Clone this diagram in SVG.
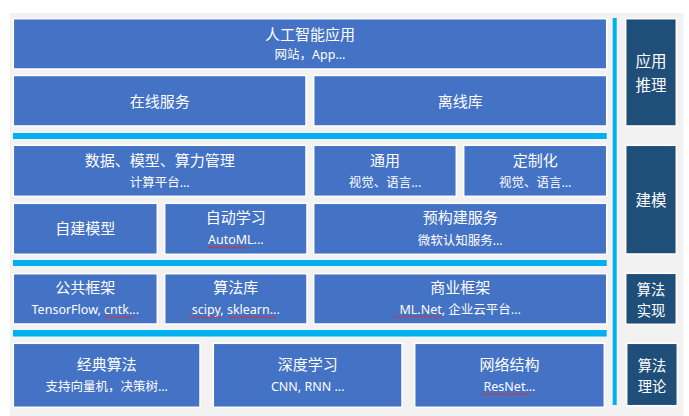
<svg xmlns="http://www.w3.org/2000/svg" width="689" height="416" viewBox="0 0 689 416">
<style>
.b{fill:#4472C4;stroke:#fff;stroke-width:1.5}
.d{fill:#1F4E79;stroke:#fff;stroke-width:1.5}
.bar{fill:#00B0F0}
text{fill:#fff;font-family:"Noto Sans CJK SC","Noto Sans",sans-serif;text-anchor:middle;dominant-baseline:central}
.t{font-size:15px}
.s{font-size:12.5px;font-family:"Noto Sans","Noto Sans CJK SC",sans-serif}
.r{font-size:15.5px}
.q{font-size:14.3px}
.w{fill:none;stroke:#e03030;stroke-width:1}
</style>
<rect x="0" y="0" width="689" height="416" fill="#fff"/>
<rect x="10" y="13" width="673.5" height="403" fill="#F2F2F2"/>
<g id="bars">
<rect class="bar" x="13" y="133" width="593.7" height="6"/>
<rect class="bar" x="13" y="260" width="593.7" height="6"/>
<rect class="bar" x="13" y="330" width="593.7" height="6.5"/>
<rect class="bar" x="612.7" y="18" width="4" height="387"/>
</g>
<g id="ai-app"><rect class="b" x="13.3" y="18.7" width="593.4" height="50.3"/><text class="t" x="310" y="33">人工智能应用</text><text class="s" x="310" y="54.5">网站，App...</text></g>
<g id="online"><rect class="b" x="13.3" y="75.5" width="292.7" height="50.5"/><text class="t" x="159.7" y="100">在线服务</text></g>
<g id="offline"><rect class="b" x="313.7" y="75.5" width="293" height="50.5"/><text class="t" x="460.2" y="100">离线库</text></g>
<g id="data-mgmt"><rect class="b" x="13.3" y="145.3" width="292.7" height="51"/><text class="t" x="159.7" y="159.3">数据、模型、算力管理</text><text class="s" x="159.7" y="182">计算平台...</text></g>
<g id="general"><rect class="b" x="313.7" y="145.3" width="142.6" height="51"/><text class="t" x="385" y="159.3">通用</text><text class="s" x="385" y="182">视觉、语言...</text></g>
<g id="custom"><rect class="b" x="463.7" y="145.3" width="143" height="51"/><text class="t" x="535.2" y="159.3">定制化</text><text class="s" x="535.2" y="182">视觉、语言...</text></g>
<g id="self-model"><rect class="b" x="13.3" y="203.3" width="144" height="51"/><text class="t" x="85.3" y="227.5">自建模型</text></g>
<g id="automl"><rect class="b" x="164.7" y="203.3" width="142.3" height="51"/><text class="t" x="235.8" y="216.7">自动学习</text><text class="s" x="235.8" y="239.5">AutoML...</text><path class="w" d="M207 246.5 l2 1.5 l2 -1.5 l2 1.5 l2 -1.5 l2 1.5 l2 -1.5 l2 1.5 l2 -1.5 l2 1.5 l2 -1.5 l2 1.5 l2 -1.5 l2 1.5 l2 -1.5 l2 1.5 l2 -1.5 l2 1.5 l2 -1.5 l2 1.5 l2 -1.5"/></g>
<g id="prebuilt"><rect class="b" x="313.7" y="203.3" width="293" height="51"/><text class="t" x="460.2" y="216.7">预构建服务</text><text class="s" x="460.2" y="240">微软认知服务...</text></g>
<g id="public-fw"><rect class="b" x="13.3" y="273.7" width="144" height="50.3"/><text class="t" x="85.3" y="286.7">公共框架</text><text class="s" x="85.3" y="309.5">TensorFlow, cntk...</text><path class="w" d="M105 316.5 l2 1.5 l2 -1.5 l2 1.5 l2 -1.5 l2 1.5 l2 -1.5 l2 1.5 l2 -1.5 l2 1.5 l2 -1.5 l2 1.5 l2 -1.5 l2 1.5 l2 -1.5"/></g>
<g id="algo-lib"><rect class="b" x="164.7" y="273.7" width="142.3" height="50.3"/><text class="t" x="235.8" y="286.7">算法库</text><text class="s" x="235.8" y="309.5">scipy, sklearn...</text><path class="w" d="M188.5 316.5 l2 1.5 l2 -1.5 l2 1.5 l2 -1.5 l2 1.5 l2 -1.5 l2 1.5 l2 -1.5 l2 1.5 l2 -1.5 l2 1.5 l2 -1.5 l2 1.5 l2 -1.5 l2 1.5 l2 -1.5"/><path class="w" d="M228 316.5 l2 1.5 l2 -1.5 l2 1.5 l2 -1.5 l2 1.5 l2 -1.5 l2 1.5 l2 -1.5 l2 1.5 l2 -1.5 l2 1.5 l2 -1.5 l2 1.5 l2 -1.5 l2 1.5 l2 -1.5 l2 1.5 l2 -1.5 l2 1.5 l2 -1.5 l2 1.5 l2 -1.5 l2 1.5 l2 -1.5"/></g>
<g id="commercial-fw"><rect class="b" x="313.7" y="273.7" width="293" height="50.3"/><text class="t" x="460.2" y="286.7">商业框架</text><text class="s" x="460.2" y="309.5">ML.Net, 企业云平台...</text><path class="w" d="M393.5 316 l2 1.5 l2 -1.5 l2 1.5 l2 -1.5 l2 1.5 l2 -1.5 l2 1.5 l2 -1.5 l2 1.5 l2 -1.5 l2 1.5 l2 -1.5 l2 1.5 l2 -1.5 l2 1.5 l2 -1.5 l2 1.5 l2 -1.5 l2 1.5 l2 -1.5 l2 1.5 l2 -1.5 l2 1.5 l2 -1.5"/></g>
<g id="classic"><rect class="b" x="13.3" y="343.3" width="186.7" height="64"/><text class="t" x="106.7" y="363.3">经典算法</text><text class="s" x="106.7" y="386">支持向量机，决策树...</text></g>
<g id="deep"><rect class="b" x="213.3" y="343.3" width="188.7" height="64"/><text class="t" x="307.7" y="363.3">深度学习</text><text class="s" x="307.7" y="386">CNN, RNN ...</text></g>
<g id="network"><rect class="b" x="414.7" y="343.3" width="189.6" height="64"/><text class="t" x="509.5" y="363.3">网络结构</text><text class="s" x="509.5" y="386">ResNet...</text><path class="w" d="M482 393.5 l2 1.5 l2 -1.5 l2 1.5 l2 -1.5 l2 1.5 l2 -1.5 l2 1.5 l2 -1.5 l2 1.5 l2 -1.5 l2 1.5 l2 -1.5 l2 1.5 l2 -1.5 l2 1.5 l2 -1.5 l2 1.5 l2 -1.5 l2 1.5 l2 -1.5 l2 1.5 l2 -1.5 l2 1.5 l2 -1.5"/></g>
<g id="side-app"><rect class="d" x="625.7" y="18.7" width="50.6" height="107.3"/><text class="r" x="651" y="59.5">应用</text><text class="r" x="651" y="83.5">推理</text></g>
<g id="side-model"><rect class="d" x="625.7" y="145.3" width="50.6" height="108.7"/><text class="r" x="651" y="199">建模</text></g>
<g id="side-impl"><rect class="d" x="625.7" y="273.3" width="50.6" height="51"/><text class="q" x="651" y="288.2">算法</text><text class="q" x="651" y="309.2">实现</text></g>
<g id="side-theory"><rect class="d" x="626.7" y="343.3" width="50.6" height="62.4"/><text class="q" x="652" y="364">算法</text><text class="q" x="652" y="385">理论</text></g>
</svg>
